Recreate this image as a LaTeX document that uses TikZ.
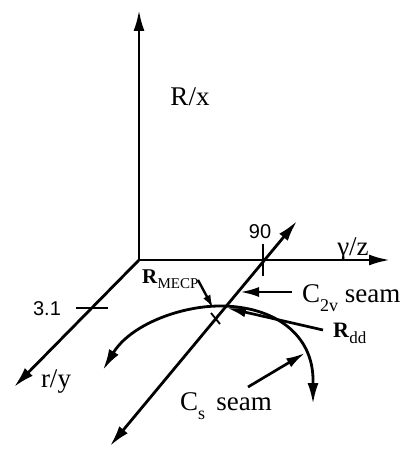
\documentclass[tikz,border=0pt]{standalone}
\usepackage{fontspec}
\setmainfont{Liberation Serif}
\newfontfamily\numfont{Liberation Sans}
\usetikzlibrary{arrows.meta}
\tikzset{
  axis/.style={line width=2.8pt, -{Latex[length=21pt,width=11pt]}},
  both/.style={line width=2.8pt, {Latex[length=21pt,width=11pt]}-{Latex[length=21pt,width=11pt]}},
  pointer/.style={line width=2.7pt, -{Latex[length=19pt,width=10pt]}},
  smallptr/.style={line width=2.4pt, -{Latex[length=13pt,width=8pt]}},
  tickmark/.style={line width=2.3pt},
  lab/.style={inner sep=0pt, font=\fontsize{27}{27}\selectfont},
  num/.style={inner sep=0pt, font=\numfont\fontsize{20}{20}\selectfont},
}
\newcommand{\subl}[1]{\raisebox{-9pt}{\fontsize{18}{18}\selectfont #1}}
\begin{document}
\begin{tikzpicture}[x=1pt,y=-1pt]
\useasboundingbox (0,0) rectangle (399,449);
% coordinates
\coordinate (O) at (139,260);
\coordinate (xT) at (139,10);
\coordinate (zT) at (390,260);
\coordinate (yT) at (14,387);
\coordinate (sA) at (110,446);
\coordinate (sB) at (297,221);
\coordinate (t1a) at (76,308);
\coordinate (t1b) at (108,308);
\coordinate (t2a) at (263,244);
\coordinate (t2b) at (263,276);
\coordinate (cL) at (103,370);
\coordinate (cTop) at (220,306);
\coordinate (cR) at (313,380);
\coordinate (cE) at (313,404);
\coordinate (xa) at (211,313);
\coordinate (xb) at (220,324);
% axes
\draw[axis] (O) -- (xT);
\draw[axis] (O) -- (zT);
\draw[axis] (O) -- (yT);
\draw[both] (sA) -- (sB);
\draw[tickmark] (t1a) -- (t1b);
\draw[tickmark] (t2a) -- (t2b);
% curve
\draw[both] (cL) .. controls (130,325) and (180,306) .. (cTop)
  .. controls (275,306) and (313,335) .. (cR) -- (cE);
\draw[line width=1.8pt] (xa) -- (xb);
% labels
\node[lab] (lx) at (190,97) {R/x};
\node[lab] (lz) at (353,249) {γ/z};
\node[lab] (ly) at (56,382) {r/y};
\node[num] (n31) at (47,309) {3.1};
\node[num] (n90) at (260,232) {90};
\node[lab, anchor=base west] (c2v) at (302,302) {C\subl{2v} seam};
\node[lab, anchor=base west] (cs) at (180,410) {C\subl{s}\, seam};
\node[inner sep=0pt, anchor=base west] (rdd) at (333,337)
  {\fontsize{22}{22}\selectfont\textbf{R}\raisebox{-6pt}{\fontsize{17}{17}\selectfont dd}};
\node[inner sep=0pt, anchor=base west] (rm) at (142,283)
  {\fontsize{21}{21}\selectfont\textbf{R}\raisebox{-5pt}{\fontsize{15}{15}\selectfont MECP}};
% pointers
\coordinate (p1s) at (292,292);
\coordinate (p1e) at (240,292);
\coordinate (p2s) at (323,330);
\coordinate (p2e) at (227,308);
\coordinate (p3s) at (248,387);
\coordinate (p3e) at (305,353);
\coordinate (p4s) at (198,280);
\coordinate (p4e) at (213,308);
\draw[pointer] (p1s) -- (p1e);
\draw[pointer] (p2s) -- (p2e);
\draw[pointer] (p3s) -- (p3e);
\draw[smallptr] (p4s) -- (p4e);
\end{tikzpicture}
\end{document}
